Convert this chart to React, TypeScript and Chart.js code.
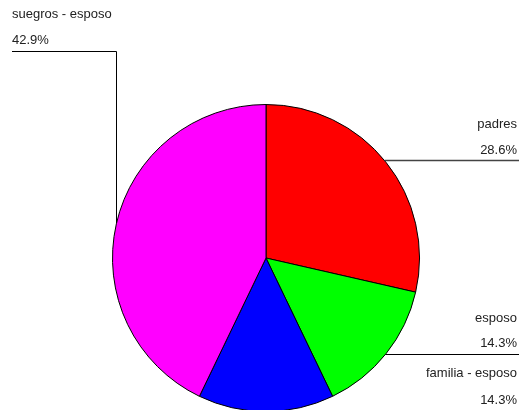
import React, { useEffect, useRef } from "react";
import { Chart, registerables } from "chart.js";

Chart.register(...registerables);

const categories = ["padres", "esposo", "familia - esposo", "suegros - esposo"];
const counts = [2, 1, 1, 3];
const colors = ["#ff0000", "#00ff00", "#0000ff", "#ff00ff"];

const total = counts.reduce((a, b) => a + b, 0);
const percentLabels = counts.map((c) => ((c / total) * 100).toFixed(1) + "%");

const labelPlugin = {
  id: "leaderLabels",
  afterDraw(chart: any) {
    const ctx = chart.ctx as CanvasRenderingContext2D;
    const arc: any = chart.getDatasetMeta(0).data[0];
    const cx = arc.x;
    const cy = arc.y;
    const r = arc.outerRadius;
    const W = 519;
    ctx.save();
    ctx.font = "13px 'Liberation Sans', Arial, sans-serif";
    ctx.fillStyle = "#222";
    ctx.textBaseline = "alphabetic";

    // suegros - esposo (left top)
    ctx.textAlign = "left";
    ctx.fillText(categories[3], 12, 18);
    ctx.fillText(percentLabels[3], 12, 44);
    ctx.strokeStyle = "#000";
    ctx.lineWidth = 1;
    const vx = 116.5;
    const vy = cy - Math.sqrt(Math.max(r * r - (cx - vx) * (cx - vx), 0));
    ctx.beginPath();
    ctx.moveTo(12, 51.5);
    ctx.lineTo(vx, 51.5);
    ctx.lineTo(vx, vy);
    ctx.stroke();

    // padres
    ctx.textAlign = "right";
    ctx.fillText(categories[0], 517, 128);
    ctx.fillText(percentLabels[0], 517, 154);
    const py = 160.5;
    const px = cx + Math.sqrt(Math.max(r * r - (py - cy) * (py - cy), 0));
    ctx.strokeStyle = "#444";
    ctx.lineWidth = 1.5;
    ctx.beginPath();
    ctx.moveTo(px, py);
    ctx.lineTo(W, py);
    ctx.stroke();

    // esposo
    ctx.fillText(categories[1], 517, 322);
    ctx.fillText(percentLabels[1], 517, 347);
    const ey = 354.5;
    const ex = cx + Math.sqrt(Math.max(r * r - (ey - cy) * (ey - cy), 0));
    ctx.strokeStyle = "#000";
    ctx.lineWidth = 1;
    ctx.beginPath();
    ctx.moveTo(ex, ey);
    ctx.lineTo(W, ey);
    ctx.stroke();

    // familia - esposo
    ctx.fillText(categories[2], 517, 377);
    ctx.fillText(percentLabels[2], 517, 404);
    ctx.restore();
  },
};

export default function App() {
  const ref = useRef<HTMLCanvasElement | null>(null);
  useEffect(() => {
    if (!ref.current) return;
    const chart = new Chart(ref.current, {
      type: "pie",
      data: {
        labels: categories,
        datasets: [
          {
            data: counts,
            backgroundColor: colors,
            borderColor: "#000",
            borderWidth: 1,
          },
        ],
      },
      options: {
        responsive: false,
        animation: false,
        layout: { padding: { left: 112, right: 99, top: 104, bottom: 18 } },
        plugins: {
          legend: { display: false },
          tooltip: { enabled: false },
        },
      },
      plugins: [labelPlugin],
    });
    return () => chart.destroy();
  }, []);
  return (
    <div
      style={{
        position: "absolute",
        left: 0,
        top: 0,
        width: 519,
        height: 410,
        overflow: "hidden",
        background: "#fff",
      }}
    >
      <canvas ref={ref} width={519} height={430} style={{ width: 519, height: 430, display: "block" }} />
    </div>
  );
}
